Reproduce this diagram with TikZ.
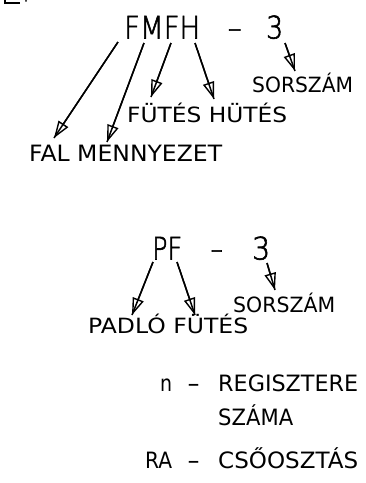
\documentclass[tikz,border=0pt]{standalone}
\usepackage{fontspec}
\usepackage{graphicx}
\usetikzlibrary{arrows.meta}
\newfontfamily\cad{DejaVu Sans}
\IfFontExistsTF{DejaVu Sans ExtraLight}{\newfontfamily\cadbig{DejaVu Sans ExtraLight}[FakeBold=2]}{\newfontfamily\cadbig{DejaVu Sans}}
\newsavebox\cadbox
\newcommand\fw[2]{\sbox\cadbox{#2}\pgfmathsetmacro\sx{#1/\the\wd\cadbox}\scalebox{\sx}[1]{\usebox\cadbox}}
\tikzset{
  big/.style={inner sep=0pt, anchor=base west, font=\cadbig\fontsize{31}{31}\selectfont},
  small/.style={inner sep=0pt, anchor=base west, font=\cad\fontsize{21}{21}\selectfont},
  large/.style={inner sep=0pt, anchor=base west, font=\cad\fontsize{22.5}{22.5}\selectfont},
  arr/.style={line width=1.5pt, postaction={draw, -{Triangle[open, length=17pt, width=11.5pt, line width=1.4pt]}}}
}
\begin{document}
\begin{tikzpicture}[x=1pt, y=-1pt]
\useasboundingbox (0,0) rectangle (366,483);
% clipped glyph at top left
\draw[line width=1.5pt] (5,0) -- (5,3) -- (20,3);
\fill (26,0.8) circle (1pt);
% FMFH - 3
\node[big] (fmfh) at (124,38.5) {\fw{76}{FMFH}};
\node[big] (d1) at (227,38.5) {\fw{15}{-}};
\node[big] (n3a) at (266,38.5) {\fw{17}{3}};
\node[small] (sorsz1) at (252,92) {\fw{101}{SORSZÁM}};
\node[small] (futes) at (127,122.5) {\fw{160}{FÜTÉS HÜTÉS}};
\node[large] (fal) at (29,161.5) {\fw{193}{FAL MENNYEZET}};
\coordinate (s1) at (118,42); \coordinate (t1) at (54,138);
\coordinate (s2) at (144,43); \coordinate (t2) at (107,142);
\coordinate (s3) at (171,43); \coordinate (t3) at (151,97);
\coordinate (s4) at (195,43); \coordinate (t4) at (214,99);
\coordinate (s5) at (285,43); \coordinate (t5) at (295,71);
\draw[arr] (s1) -- (t1);
\draw[arr] (s2) -- (t2);
\draw[arr] (s3) -- (t3);
\draw[arr] (s4) -- (t4);
\draw[arr] (s5) -- (t5);
% PF - 3
\node[big] (pf) at (152,259.5) {\fw{30}{PF}};
\node[big] (d2) at (210,259.5) {\fw{13}{-}};
\node[big] (n3b) at (252,259.5) {\fw{18}{3}};
\node[small] (sorsz2) at (233,312) {\fw{102}{SORSZÁM}};
\node[small] (padlo) at (88,333.5) {\fw{160}{PADLÓ FÜTÉS}};
\coordinate (s6) at (153,262); \coordinate (t6) at (132,315);
\coordinate (s7) at (177,262); \coordinate (t7) at (195,315);
\coordinate (s8) at (267,263); \coordinate (t8) at (275,290);
\draw[arr] (s6) -- (t6);
\draw[arr] (s7) -- (t7);
\draw[arr] (s8) -- (t8);
% legend
\node[large] (nn) at (160,391) {\fw{12}{n}};
\node[large] (d3) at (187,391) {\fw{13}{-}};
\node[large] (reg) at (218,391) {\fw{140}{REGISZTERE}};
\node[large] (szama) at (218,425.5) {\fw{75}{SZÁMA}};
\node[large] (ra) at (145,468.5) {\fw{27}{RA}};
\node[large] (d4) at (187,468.5) {\fw{13}{-}};
\node[large] (cso) at (218,468.5) {\fw{140}{CSŐOSZTÁS}};
\end{tikzpicture}
\end{document}
